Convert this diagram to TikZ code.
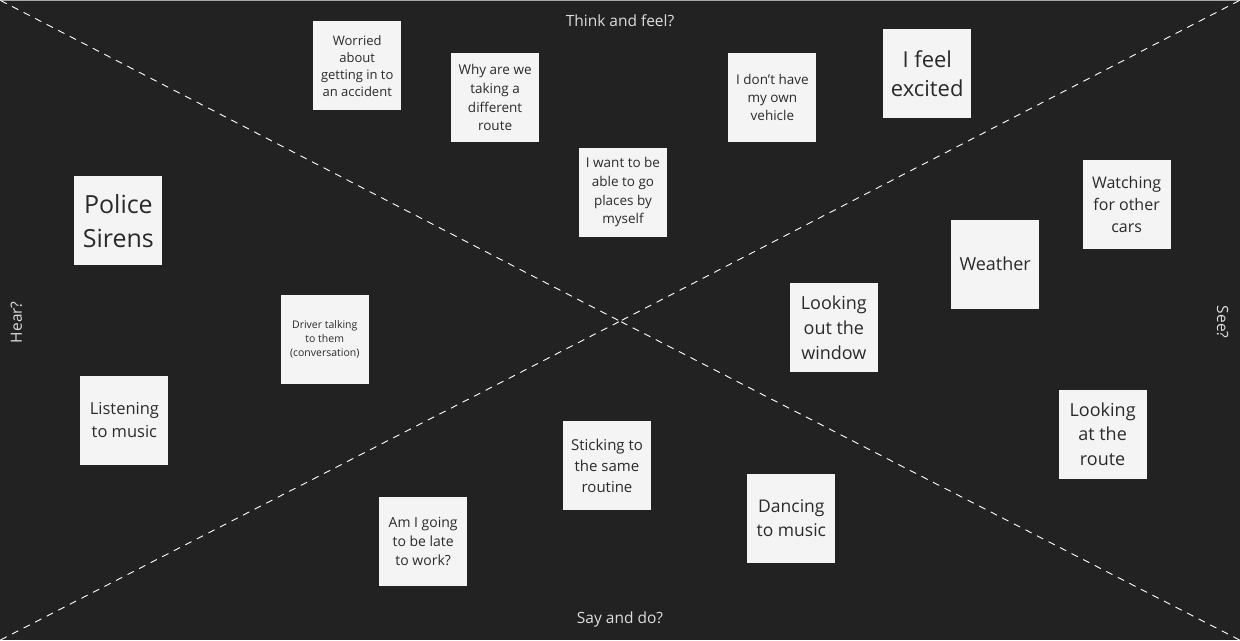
\documentclass[tikz,border=0pt]{standalone}
\usepackage{fontspec}
\setmainfont{Open Sans}
\definecolor{board}{HTML}{222222}
\definecolor{notefill}{HTML}{F4F4F4}
\definecolor{notetext}{HTML}{2A2A2A}
\definecolor{labeltext}{HTML}{DDDDDD}
\begin{document}
\begin{tikzpicture}[x=1pt,y=-1pt,
    note/.style={fill=notefill,text=notetext,minimum width=88pt,minimum height=89pt,
      inner sep=3pt,align=center,anchor=center},
    quad/.style={text=labeltext,font=\fontsize{15.5}{18}\selectfont},
    split/.style={draw=white,line width=0.9pt,dash pattern=on 7pt off 6pt}]
  \fill[board] (0,0) rectangle (1240,640);
  \draw[gray!70,line width=1pt] (0,0.5) -- (1240,0.5);
  \coordinate (mid) at (620,321);
  \coordinate (tl) at (0,0);
  \coordinate (tr) at (1240,0);
  \coordinate (bl) at (0,640);
  \coordinate (br) at (1240,640);
  \draw[split] (tl) -- (mid);
  \draw[split] (tr) -- (mid);
  \draw[split] (bl) -- (mid);
  \draw[split] (br) -- (mid);
  \node[quad] (think) at (620,20) {Think and feel?};
  \node[quad] (say) at (620,620) {Say and do?};
  \node[quad,rotate=90] (hear) at (16,322) {Hear?};
  \node[quad,rotate=-90] (see) at (1223,322) {See?};
  \node[note,font=\fontsize{13}{17}\selectfont] (worried) at (357,65.5) {Worried\\about\\getting in to\\an accident};
  \node[note,font=\fontsize{13.5}{18.7}\selectfont] (why) at (495,97.5) {Why are we\\taking a\\different\\route};
  \node[note,font=\fontsize{13.5}{18.7}\selectfont] (want) at (623,192) {I want to be\\able to go\\places by\\myself};
  \node[note,font=\fontsize{13.5}{18}\selectfont] (vehicle) at (772.5,97) {I don't have\\my own\\vehicle};
  \node[note,font=\fontsize{22}{29.5}\selectfont] (excited) at (927.5,73.5) {I feel\\excited};
  \node[note,font=\fontsize{25}{34}\selectfont] (sirens) at (118,220.5) {Police\\Sirens};
  \node[note,font=\fontsize{16}{22}\selectfont] (watching) at (1127,204) {Watching\\for other\\cars};
  \node[note,font=\fontsize{18}{24}\selectfont] (weather) at (995.5,264) {Weather};
  \node[note,font=\fontsize{10.5}{14}\selectfont] (driver) at (324.5,339.5) {Driver talking\\to them\\(conversation)};
  \node[note,font=\fontsize{18}{25}\selectfont] (window) at (834,327.5) {Looking\\out the\\window};
  \node[note,font=\fontsize{16.5}{23}\selectfont] (listening) at (124,420) {Listening\\to music};
  \node[note,font=\fontsize{18}{24.5}\selectfont] (route) at (1103,434) {Looking\\at the\\route};
  \node[note,font=\fontsize{15}{21}\selectfont] (routine) at (607,465.5) {Sticking to\\the same\\routine};
  \node[note,font=\fontsize{17.5}{24}\selectfont] (dancing) at (791.5,518) {Dancing\\to music};
  \node[note,font=\fontsize{14}{19}\selectfont] (late) at (423,541.5) {Am I going\\to be late\\to work?};
\end{tikzpicture}
\end{document}
